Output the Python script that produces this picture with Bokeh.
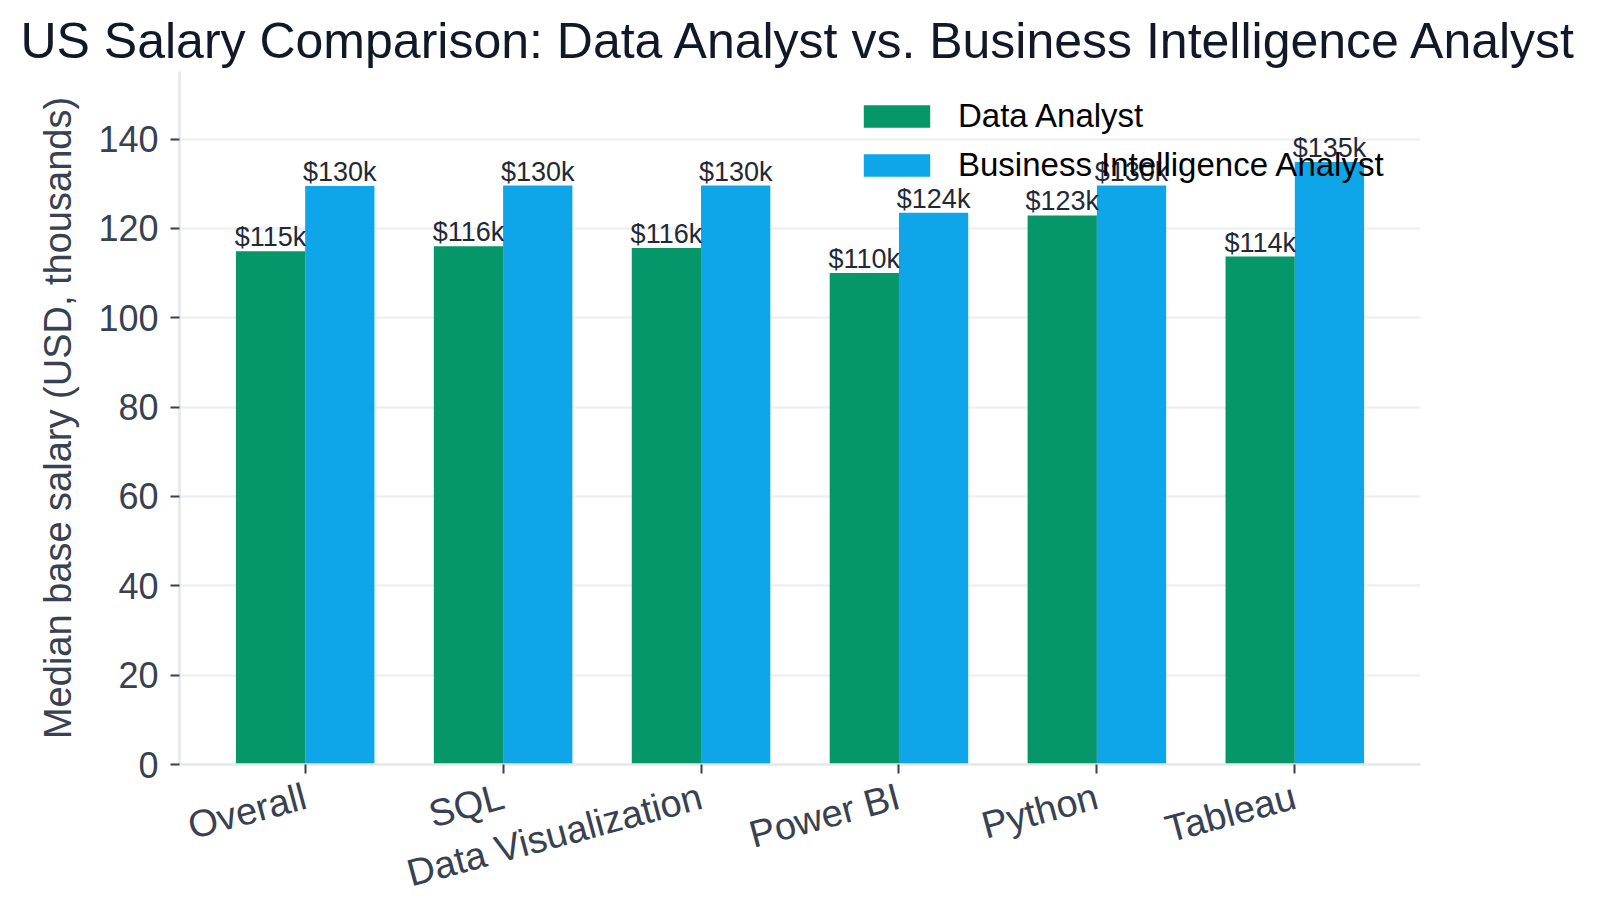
from bokeh.plotting import figure
from bokeh.models import ColumnDataSource, Legend, LegendItem, FixedTicker, Range1d
from bokeh.core.properties import value
from bokeh.embed import file_html
from bokeh.resources import INLINE

# Median base salary (thousands USD) per skill group
categories = ["Overall", "SQL", "Data Visualization", "Power BI", "Python", "Tableau"]
data_analyst = [114.9, 116.0, 115.6, 110.0, 122.9, 113.7]
bi_analyst = [129.5, 129.6, 129.6, 123.5, 129.6, 134.9]
series_names = ["Data Analyst", "Business Intelligence Analyst"]
y_ticks = [0, 20, 40, 60, 80, 100, 120, 140]

FONT = "Liberation Sans"
GREEN = "#059669"
BLUE = "#0ea5e9"
BAR_W = 0.35

idx = list(range(len(categories)))


def fmt(v):
    return "$%dk" % int(v + 0.5)


src_da = ColumnDataSource(dict(
    x=[i - BAR_W / 2 for i in idx], top=data_analyst,
    label=[fmt(v) for v in data_analyst]))
src_bi = ColumnDataSource(dict(
    x=[i + BAR_W / 2 for i in idx], top=bi_analyst,
    label=[fmt(v) for v in bi_analyst]))

y_max = max(data_analyst + bi_analyst) * 1.15

p = figure(
    width=1598, height=919,
    output_backend="svg", toolbar_location=None,
    x_range=Range1d(-0.635, len(categories) - 1 + 0.635),
    y_range=Range1d(0, y_max),
    min_border_left=179, min_border_right=178,
    min_border_top=71, min_border_bottom=155,
    title="US Salary Comparison: Data Analyst vs. Business Intelligence Analyst",
)
p.outline_line_color = None
p.background_fill_color = "white"
p.border_fill_color = "white"

p.title.align = "center"
p.title.text_font = FONT
p.title.text_font_size = "50px"
p.title.text_font_style = "normal"
p.title.text_color = "#111827"
p.title.standoff = 5

# grid
p.xgrid.grid_line_color = None
p.ygrid.grid_line_color = "#eff0f3"
p.ygrid.grid_line_width = 2.5
p.ygrid.ticker = FixedTicker(ticks=y_ticks)

# bars
r_da = p.vbar(x="x", top="top", width=BAR_W, bottom=0, source=src_da,
              fill_color=GREEN, line_color=None)
r_bi = p.vbar(x="x", top="top", width=BAR_W, bottom=0, source=src_bi,
              fill_color=BLUE, line_color=None)

# value labels above bars
for src in (src_da, src_bi):
    p.text(x="x", y="top", text="label", source=src,
           text_font=value(FONT), text_font_size="27px",
           text_color="#1f2937", text_align="center",
           text_baseline="bottom", y_offset=1)

# axes
for ax in (p.xaxis[0], p.yaxis[0]):
    ax.axis_line_color = "#e5e7eb"
    ax.axis_line_width = 2.5
    ax.major_tick_line_color = "#374151"
    ax.major_tick_line_width = 2
    ax.major_tick_out = 9
    ax.major_tick_in = 0
    ax.minor_tick_line_color = None
    ax.major_label_text_font = FONT
    ax.major_label_text_color = "#374151"

p.yaxis.ticker = FixedTicker(ticks=y_ticks)
p.yaxis.major_label_text_font_size = "36px"
p.yaxis.major_label_standoff = 12
p.yaxis.axis_label = "Median base salary (USD, thousands)"
p.yaxis.axis_label_text_font = FONT
p.yaxis.axis_label_text_font_size = "38px"
p.yaxis.axis_label_text_font_style = "normal"
p.yaxis.axis_label_text_color = "#374151"
p.yaxis.axis_label_standoff = 16

p.xaxis.ticker = FixedTicker(ticks=idx)
p.xaxis.major_label_overrides = {i: c for i, c in zip(idx, categories)}
p.xaxis.major_label_orientation = 0.2618
p.xaxis.major_label_text_font_size = "38px"
p.xaxis.major_label_standoff = 22

legend = Legend(
    items=[LegendItem(label=series_names[0], renderers=[r_da]),
           LegendItem(label=series_names[1], renderers=[r_bi])],
    location=(676, 580),
    orientation="vertical",
    padding=0, margin=0, spacing=11,
    glyph_width=83, glyph_height=28,
    label_standoff=20,
    label_text_font=FONT, label_text_font_size="33px",
    label_text_color="black",
    border_line_color=None, background_fill_alpha=0,
)
p.add_layout(legend, "center")

open("out.html", "w").write(file_html(p, INLINE))
